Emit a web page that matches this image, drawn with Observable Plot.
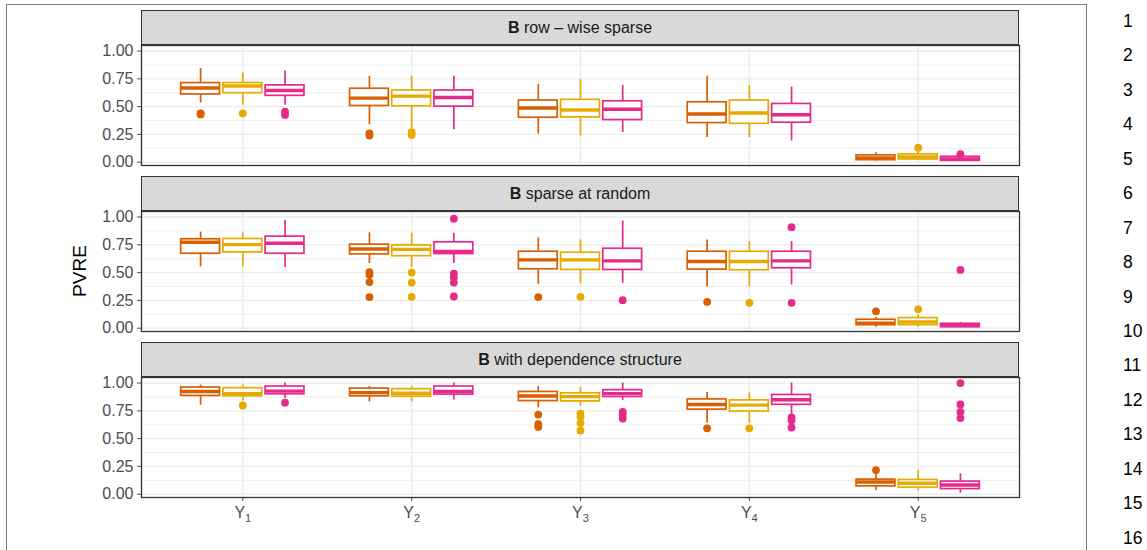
<!DOCTYPE html>
<html><head><meta charset="utf-8">
<script src="https://cdn.jsdelivr.net/npm/d3@7"></script>
<script src="https://cdn.jsdelivr.net/npm/@observablehq/plot@0.6"></script>
<style>
body{margin:0;background:#fff;font-family:"Liberation Sans",Arial,Helvetica,sans-serif;}
#root{position:relative;width:1147px;height:550px;overflow:hidden;background:#fff;}
.page{position:absolute;left:6px;top:4px;width:1079px;height:560px;border-left:1px solid #808080;border-top:1px solid #808080;border-right:1px solid #808080;}
.strip{position:absolute;left:141px;width:878px;height:35px;box-sizing:border-box;background:#D9D9D9;border:1.3px solid #333;font-size:16px;color:#1A1A1A;text-align:center;line-height:33px;}
.panel{position:absolute;left:0;}
.panel svg{overflow:visible;}
.ylab{position:absolute;left:80px;top:271px;transform:translate(-50%,-50%) rotate(-90deg);font-size:19px;color:#000;white-space:nowrap;}
.lineno{position:absolute;left:1123px;top:4px;font-size:17.5px;line-height:34.43px;color:#000;}
</style></head>
<body><div id="root"></div>
<script>
// ---------- data ----------
const panelTitles = ["row – wise sparse", "sparse at random", "with dependence structure"];
const variables = ["Y1", "Y2", "Y3", "Y4", "Y5"];
const variableSubscripts = ["1", "2", "3", "4", "5"];
const methods = ["method A", "method B", "method C"];
const methodColors = ["#D95F02", "#E6AB02", "#E7298A"];
const yTicks = [0, 0.25, 0.5, 0.75, 1];
const yMinorTicks = [0.125, 0.375, 0.625, 0.875];
const lineNumbers = ["1","2","3","4","5","6","7","8","9","10","11","12","13","14","15","16"];

// box statistics: [lower whisker, q1, median, q3, upper whisker], rows = variable x method
const statsRowWise = [
  [0.533, 0.609, 0.667, 0.712, 0.842], [0.515, 0.621, 0.685, 0.712, 0.803], [0.512, 0.597, 0.645, 0.691, 0.821],
  [0.336, 0.506, 0.576, 0.661, 0.773], [0.303, 0.503, 0.594, 0.645, 0.773], [0.291, 0.500, 0.582, 0.645, 0.773],
  [0.252, 0.400, 0.488, 0.555, 0.700], [0.236, 0.403, 0.470, 0.561, 0.745], [0.267, 0.379, 0.476, 0.548, 0.691],
  [0.221, 0.352, 0.433, 0.539, 0.773], [0.221, 0.345, 0.442, 0.555, 0.691], [0.191, 0.355, 0.427, 0.524, 0.676],
  [0.010, 0.018, 0.039, 0.061, 0.085], [0.015, 0.024, 0.048, 0.070, 0.100], [0.010, 0.012, 0.030, 0.048, 0.065]
];
const statsRandom = [
  [0.552, 0.670, 0.773, 0.800, 0.864], [0.552, 0.682, 0.752, 0.803, 0.858], [0.545, 0.670, 0.764, 0.824, 0.970],
  [0.582, 0.664, 0.712, 0.752, 0.858], [0.545, 0.648, 0.709, 0.745, 0.855], [0.582, 0.667, 0.691, 0.773, 0.855],
  [0.394, 0.530, 0.615, 0.688, 0.812], [0.400, 0.524, 0.615, 0.679, 0.794], [0.403, 0.524, 0.606, 0.715, 0.964],
  [0.370, 0.527, 0.600, 0.688, 0.794], [0.373, 0.521, 0.600, 0.688, 0.779], [0.388, 0.539, 0.606, 0.688, 0.779],
  [0.009, 0.027, 0.045, 0.076, 0.097], [0.009, 0.027, 0.055, 0.091, 0.121], [0.006, 0.009, 0.024, 0.039, 0.052]
];
const statsDependence = [
  [0.801, 0.884, 0.924, 0.960, 0.982], [0.838, 0.881, 0.905, 0.954, 0.982], [0.860, 0.899, 0.927, 0.969, 1.000],
  [0.829, 0.881, 0.914, 0.951, 0.969], [0.829, 0.878, 0.908, 0.945, 0.969], [0.847, 0.896, 0.924, 0.969, 1.000],
  [0.777, 0.838, 0.884, 0.920, 0.969], [0.792, 0.835, 0.878, 0.908, 0.960], [0.844, 0.875, 0.905, 0.936, 1.000],
  [0.639, 0.761, 0.807, 0.853, 0.914], [0.639, 0.743, 0.801, 0.844, 0.914], [0.716, 0.804, 0.850, 0.893, 1.000],
  [0.034, 0.070, 0.110, 0.131, 0.180], [0.028, 0.058, 0.098, 0.128, 0.217], [0.009, 0.046, 0.083, 0.113, 0.183]
];

// outliers: [variable index, method index, value]
const outliersRowWise = [
  [0,0,0.430],[0,0,0.440],[0,1,0.440],[0,2,0.425],[0,2,0.455],
  [1,0,0.240],[1,0,0.258],[1,1,0.245],[1,1,0.270],
  [4,1,0.130],[4,2,0.073]
];
const outliersRandom = [
  [1,0,0.505],[1,0,0.480],[1,0,0.415],[1,0,0.280],
  [1,1,0.500],[1,1,0.410],[1,1,0.282],
  [1,2,0.985],[1,2,0.490],[1,2,0.455],[1,2,0.410],[1,2,0.285],
  [2,0,0.280],[2,1,0.282],[2,2,0.252],
  [3,0,0.236],[3,1,0.228],[3,2,0.909],[3,2,0.228],
  [4,0,0.152],[4,1,0.170],[4,2,0.524]
];
const outliersDependence = [
  [0,1,0.798],[0,2,0.823],
  [2,0,0.716],[2,0,0.630],[2,0,0.605],
  [2,1,0.725],[2,1,0.695],[2,1,0.640],[2,1,0.572],
  [2,2,0.740],[2,2,0.715],[2,2,0.680],
  [3,0,0.593],[3,1,0.593],[3,2,0.690],[3,2,0.665],[3,2,0.600],
  [4,0,0.217],[4,2,1.000],[4,2,0.807],[4,2,0.740],[4,2,0.685]
];

// ---------- layout ----------
const panelStats = [statsRowWise, statsRandom, statsDependence];
const panelOutliers = [outliersRowWise, outliersRandom, outliersDependence];
const panelTops = [45, 211, 377];
const panelH = 120;
const dodge = 0.25, halfBox = 0.115;

const root = document.getElementById("root");
const page = document.createElement("div"); page.className = "page"; root.appendChild(page);

const pos = (v, m) => (v + 1) + (m - 1) * dodge;

panelTitles.forEach((title, p) => {
  const boxes = panelStats[p].map((s, i) => {
    const v = Math.floor(i / 3), m = i % 3;
    return {x: pos(v, m), method: methods[m], lo: s[0], q1: s[1], med: s[2], q3: s[3], hi: s[4]};
  });
  const outs = panelOutliers[p].map(([v, m, val]) => ({x: pos(v, m), method: methods[m], y: val}));
  const last = p === panelTitles.length - 1;
  const mt = 10, mb = last ? 40 : 10;
  const chart = Plot.plot({
    width: 1147,
    height: panelH + mt + mb,
    marginLeft: 141, marginRight: 128, marginTop: mt, marginBottom: mb,
    style: {fontFamily: '"Liberation Sans", Arial, sans-serif', fontSize: "16px", color: "#4D4D4D", background: "transparent", overflow: "visible"},
    x: last
      ? {domain: [0.4, 5.6], ticks: [1, 2, 3, 4, 5], tickFormat: d => variables[d - 1], tickSize: 4, tickPadding: 5, label: null}
      : {domain: [0.4, 5.6], axis: null},
    y: {domain: [-0.03, 1.05], ticks: yTicks, tickFormat: d3.format(".2f"), tickSize: 4, tickPadding: 4, label: null},
    color: {domain: methods, range: methodColors},
    marks: [
      Plot.ruleY(yMinorTicks, {stroke: "#EBEBEB", strokeWidth: 0.8}),
      Plot.ruleY(yTicks, {stroke: "#EBEBEB", strokeWidth: 1.4}),
      Plot.ruleX([1, 2, 3, 4, 5], {stroke: "#EBEBEB", strokeWidth: 1.4}),
      Plot.ruleX(boxes, {x: "x", y1: "lo", y2: "hi", stroke: "method", strokeWidth: 1.7}),
      Plot.rect(boxes, {x1: d => d.x - halfBox, x2: d => d.x + halfBox, y1: "q1", y2: "q3", fill: "white", stroke: "method", strokeWidth: 1.7}),
      Plot.ruleY(boxes, {x1: d => d.x - halfBox, x2: d => d.x + halfBox, y: "med", stroke: "method", strokeWidth: 3.4}),
      Plot.dot(outs, {x: "x", y: "y", fill: "method", r: 3.9, stroke: null}),
      Plot.frame({stroke: "#333333", strokeWidth: 1.3})
    ]
  });
  // render the variable tick labels as Y with a subscript index
  if (last) {
    chart.querySelectorAll("text").forEach(t => {
      const i = variables.indexOf(t.textContent);
      if (i < 0) return;
      t.textContent = "Y";
      const sub = document.createElementNS("http://www.w3.org/2000/svg", "tspan");
      sub.setAttribute("dy", "4");
      sub.setAttribute("font-size", "11px");
      sub.textContent = variableSubscripts[i];
      t.appendChild(sub);
    });
  }
  const wrap = document.createElement("div");
  wrap.className = "panel";
  wrap.style.top = (panelTops[p] - mt) + "px";
  wrap.appendChild(chart);
  root.appendChild(wrap);

  const strip = document.createElement("div");
  strip.className = "strip";
  strip.style.top = (panelTops[p] - 35) + "px";
  strip.innerHTML = "<b>B</b> " + title;
  root.appendChild(strip);
});

const ylab = document.createElement("div");
ylab.className = "ylab"; ylab.textContent = "PVRE"; root.appendChild(ylab);

const ln = document.createElement("div");
ln.className = "lineno";
ln.innerHTML = lineNumbers.join("<br>");
root.appendChild(ln);
</script>
</body></html>
